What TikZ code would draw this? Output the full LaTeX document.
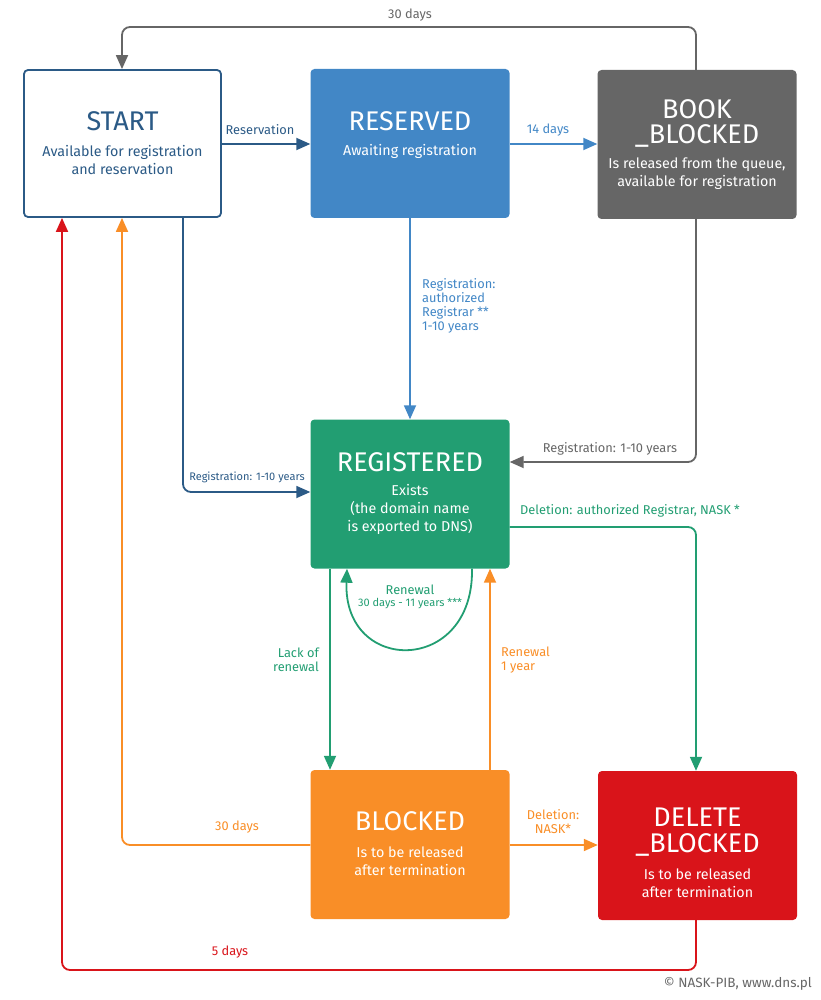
\documentclass[tikz,border=0pt]{standalone}
\usepackage{fontspec}
\setmainfont{Fira Sans}
\usetikzlibrary{arrows.meta}
\definecolor{dblue}{HTML}{2B5A86}
\definecolor{lblue}{HTML}{4287C6}
\definecolor{dgray}{HTML}{666666}
\definecolor{green}{HTML}{229E72}
\definecolor{orange}{HTML}{F98E27}
\definecolor{red}{HTML}{D9141A}
\tikzset{
  box/.style={rounded corners=4pt, minimum width=199pt, minimum height=149pt, inner sep=0pt, draw=none},
  ttl/.style={text=white, inner sep=0pt, align=center, font=\fontsize{27}{25.5}\selectfont},
  sub/.style={text=white, inner sep=0pt, align=center, font=\fontsize{14.3}{18.2}\selectfont},
  lbl/.style={inner sep=0pt, font=\fontsize{12.8}{14}\selectfont},
  slbl/.style={inner sep=0pt, font=\fontsize{11}{14}\selectfont},
  conn/.style={line width=1.8pt, rounded corners=8pt, -{Triangle[length=14pt,width=12pt]}},
}
\begin{document}
\begin{tikzpicture}[x=1pt,y=-1pt]
\useasboundingbox (0,0) rectangle (820,1000);
% boxes
\node[box, draw=dblue, line width=1.8pt, fill=white, minimum width=197pt, minimum height=147pt] (start) at (122.5,143.5) {};
\node[box, fill=lblue] (reserved) at (410,143.5) {};
\node[box, fill=dgray] (book) at (697,144.5) {};
\node[box, fill=green] (registered) at (410,494) {};
\node[box, fill=orange] (blocked) at (410,844.5) {};
\node[box, fill=red] (delete) at (697.5,845.5) {};
% texts
\node[ttl, text=dblue] (startT) at (122.5,121) {START};
\node[sub, text=dblue] (startS) at (122.5,160) {Available for registration\\and reservation};
\node[ttl] (resT) at (410,121) {RESERVED};
\node[sub] (resS) at (410,151) {Awaiting registration};
\node[ttl] (bookT) at (697,123.5) {BOOK\\\_BLOCKED};
\node[sub] (bookS) at (697,173.5) {Is released from the queue,\\available for registration};
\node[ttl] (regT) at (410,462) {REGISTERED};
\node[sub] (regS) at (410,509.5) {Exists\\(the domain name\\is exported to DNS)};
\node[ttl] (blkT) at (410,821) {BLOCKED};
\node[sub] (blkS) at (410,861) {Is to be released\\after termination};
\node[ttl] (delT) at (697.5,832) {DELETE\\\_BLOCKED};
\node[sub] (delS) at (697.5,883.5) {Is to be released\\after termination};
% connectors
\draw[conn, dblue] (start.east |- 0,144) -- (reserved.west |- 0,144);
\node[lbl, text=dblue] (l1) at (260,130) {Reservation};
\draw[conn, lblue] (reserved.east |- 0,144) -- (book.west |- 0,144);
\node[lbl, text=lblue] (l2) at (548,130) {14 days};
\coordinate (b1) at (696,27);
\coordinate (b2) at (122,27);
\draw[conn, dgray] (book.north -| 696,0) -- (b1) -- (b2) -- (start.north -| 122,0);
\node[lbl, text=dgray] (l3) at (410,15) {30 days};
\draw[conn, lblue] (reserved.south) -- (registered.north);
\node[lbl, text=lblue, align=left, anchor=north west] (l4) at (422,278) {Registration:\\authorized\\Registrar **\\1-10 years};
\coordinate (s1) at (183,492);
\draw[conn, dblue] (start.south -| 183,0) -- (s1) -- (registered.west |- 0,492);
\node[slbl, text=dblue] (l5) at (247,477) {Registration: 1-10 years};
\coordinate (k1) at (696,462);
\draw[conn, dgray] (book.south -| 696,0) -- (k1) -- (registered.east |- 0,462);
\node[lbl, text=dgray] (l6) at (610,449) {Registration: 1-10 years};
\coordinate (d1) at (696,527);
\draw[conn, green] (registered.east |- 0,527) -- (d1) -- (delete.north -| 696,0);
\node[lbl, text=green, anchor=west] (l7) at (520,511) {Deletion: authorized Registrar, NASK *};
\draw[conn, green, rounded corners=0pt] (registered.south -| 472,0) .. controls (474,675) and (343,675) .. (registered.south -| 347,0);
\node[lbl, text=green] (l8) at (410,590) {Renewal};
\node[inner sep=0pt, text=green, font=\fontsize{11}{12}\selectfont] (l9) at (410,604) {30 days - 11 years ***};
\draw[conn, green] (registered.south -| 330,0) -- (blocked.north -| 330,0);
\node[lbl, text=green, align=right, anchor=east] (l10) at (319,660) {Lack of\\renewal};
\draw[conn, orange] (blocked.north -| 490,0) -- (registered.south -| 490,0);
\node[lbl, text=orange, align=left, anchor=west] (l11) at (501,660) {Renewal\\1 year};
\coordinate (o1) at (122,845);
\draw[conn, orange] (blocked.west |- 0,845) -- (o1) -- (start.south -| 122,0);
\node[lbl, text=orange] (l12) at (237,827) {30 days};
\draw[conn, orange] (blocked.east |- 0,845) -- (delete.west |- 0,845);
\node[lbl, text=orange, align=center] (l13) at (553,822) {Deletion:\\NASK*};
\coordinate (r1) at (696,970);
\coordinate (r2) at (62,970);
\draw[conn, red] (delete.south -| 696,0) -- (r1) -- (r2) -- (start.south -| 62,0);
\node[lbl, text=red] (l14) at (230,952) {5 days};
\node[lbl, text=dgray, anchor=east, font=\fontsize{13.5}{14}\selectfont] (copy) at (812,984) {© NASK-PIB, www.dns.pl};
\end{tikzpicture}
\end{document}
